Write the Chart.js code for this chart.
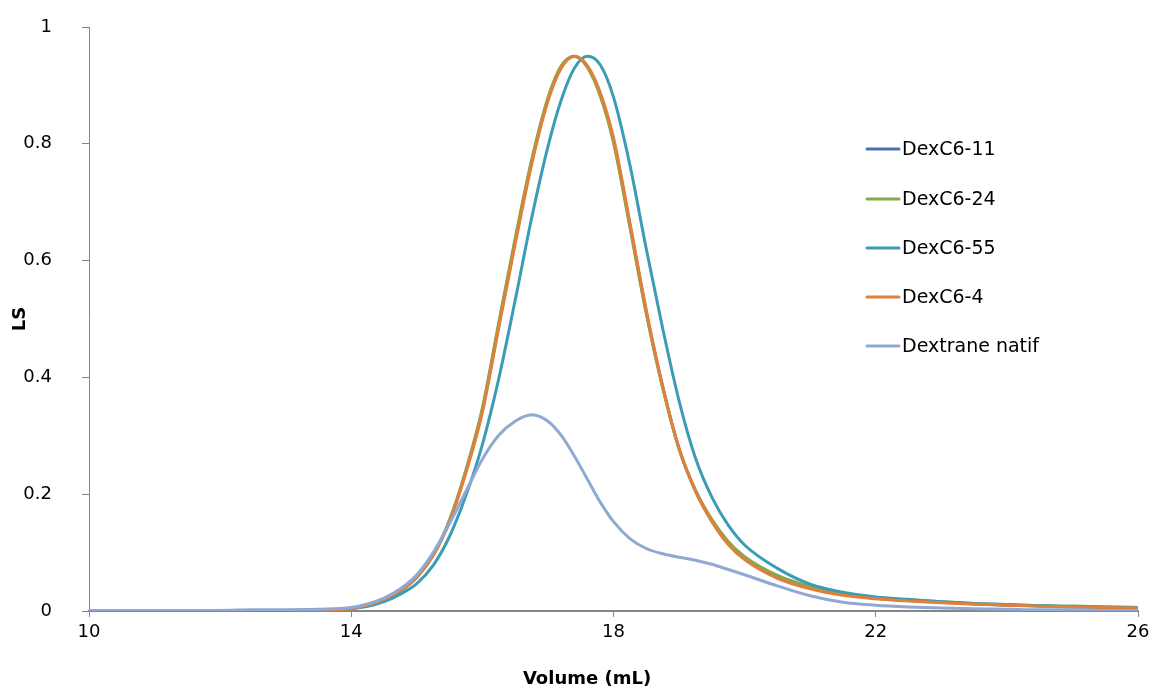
<!DOCTYPE html>
<html lang="fr">
<head>
<meta charset="UTF-8">
<title>LS - Volume</title>
<script src="https://cdn.jsdelivr.net/npm/chart.js"></script>
<style>
  html, body { margin: 0; padding: 0; background: #fff; }
  #wrap { width: 1152px; height: 691px; position: relative; }
</style>
</head>
<body>
<div id="wrap"><canvas id="graphLS"></canvas></div>

<script>
// volumes d'elution (mL)
const volumes = [10, 10.5, 11, 11.5, 12, 12.5, 13, 13.5, 14, 14.25, 14.5, 14.75, 15, 15.25, 15.5, 15.75,
  16, 16.25, 16.5, 16.75, 17, 17.2, 17.4, 17.6, 17.8, 18, 18.25, 18.5, 18.75, 19, 19.25, 19.5, 19.75,
  20, 20.5, 21, 21.5, 22, 22.5, 23, 23.5, 24, 24.5, 25, 25.5, 26];

const nomsSeries = ['DexC6-11', 'DexC6-24', 'DexC6-55', 'DexC6-4', 'Dextrane natif'];
const couleurs = ['#4672AD', '#89A84B', '#3C9CB6', '#E0803A', '#8FA9D3'];

const dexC6_11 = [0.001, 0.001, 0.001, 0.001, 0.001, 0.001, 0.001, 0.002, 0.004, 0.010, 0.020, 0.035, 0.058, 0.096, 0.155, 0.240,
  0.344, 0.490, 0.633, 0.768, 0.876, 0.931, 0.950, 0.933, 0.884, 0.806, 0.661, 0.512, 0.384, 0.278, 0.206, 0.155, 0.117,
  0.091, 0.059, 0.040, 0.029, 0.022, 0.018, 0.015, 0.012, 0.010, 0.009, 0.007, 0.006, 0.005];
const dexC6_24 = [0.001, 0.001, 0.001, 0.001, 0.001, 0.001, 0.001, 0.002, 0.004, 0.010, 0.019, 0.034, 0.058, 0.096, 0.156, 0.242,
  0.348, 0.494, 0.638, 0.772, 0.879, 0.933, 0.950, 0.931, 0.881, 0.802, 0.657, 0.509, 0.382, 0.278, 0.207, 0.157, 0.119,
  0.093, 0.061, 0.042, 0.030, 0.023, 0.019, 0.016, 0.013, 0.011, 0.009, 0.008, 0.007, 0.006];
const dexC6_55 = [0.001, 0.001, 0.001, 0.001, 0.001, 0.001, 0.001, 0.002, 0.004, 0.008, 0.016, 0.029, 0.047, 0.078, 0.128, 0.198,
  0.285, 0.398, 0.532, 0.672, 0.795, 0.874, 0.929, 0.950, 0.935, 0.880, 0.764, 0.620, 0.484, 0.360, 0.262, 0.195, 0.147,
  0.113, 0.073, 0.046, 0.032, 0.024, 0.020, 0.016, 0.013, 0.011, 0.009, 0.008, 0.007, 0.006];
const dexC6_4 = [0.001, 0.001, 0.001, 0.001, 0.001, 0.001, 0.001, 0.002, 0.004, 0.010, 0.020, 0.035, 0.058, 0.095, 0.153, 0.237,
  0.340, 0.485, 0.628, 0.764, 0.873, 0.929, 0.950, 0.934, 0.887, 0.810, 0.665, 0.515, 0.385, 0.278, 0.205, 0.153, 0.114,
  0.088, 0.056, 0.038, 0.027, 0.021, 0.017, 0.014, 0.012, 0.010, 0.008, 0.007, 0.006, 0.005];
const dextraneNatif = [0.001, 0.001, 0.001, 0.001, 0.001, 0.002, 0.002, 0.003, 0.006, 0.012, 0.022, 0.038, 0.062, 0.100, 0.150, 0.205,
  0.260, 0.301, 0.325, 0.336, 0.325, 0.301, 0.266, 0.226, 0.186, 0.153, 0.124, 0.107, 0.098, 0.092, 0.087, 0.080, 0.071,
  0.062, 0.043, 0.026, 0.015, 0.010, 0.007, 0.005, 0.004, 0.003, 0.002, 0.002, 0.001, 0.001];

const valeurs = [dexC6_11, dexC6_24, dexC6_55, dexC6_4, dextraneNatif];

const police = "'DejaVu Sans', sans-serif";

// legende dans la zone du graphe + titres des axes
const legendeEtTitres = {
  id: 'legendeEtTitres',
  afterDraw(chart) {
    const ctx = chart.ctx;
    ctx.save();
    const lignesY = [149, 199, 248, 297, 346];
    chart.data.datasets.forEach(function (ds, i) {
      const y = lignesY[i];
      ctx.strokeStyle = ds.borderColor;
      ctx.lineWidth = 3;
      ctx.lineCap = 'round';
      ctx.beginPath();
      ctx.moveTo(867, y);
      ctx.lineTo(899, y);
      ctx.stroke();
      ctx.fillStyle = '#000';
      ctx.font = '19px ' + police;
      ctx.textAlign = 'left';
      ctx.textBaseline = 'middle';
      ctx.fillText(ds.label, 902, y + 1);
    });

    ctx.font = 'bold 18px ' + police;
    ctx.fillStyle = '#000';
    ctx.textAlign = 'center';
    ctx.textBaseline = 'middle';
    ctx.fillText('Volume (mL)', 587, 679);

    ctx.translate(20, 319);
    ctx.rotate(-Math.PI / 2);
    ctx.fillText('LS', 0, 0);
    ctx.restore();
  }
};

const datasets = nomsSeries.map(function (nom, i) {
  return {
    label: nom,
    data: volumes.map(function (v, j) { return { x: v, y: valeurs[i][j] }; }),
    borderColor: couleurs[i],
    backgroundColor: couleurs[i],
    borderWidth: 3,
    pointRadius: 0,
    fill: false,
    cubicInterpolationMode: 'monotone',
    order: nomsSeries.length - i   // derniere serie dessinee au dessus
  };
});

const config = {
  type: 'line',
  data: { datasets: datasets },
  options: {
    responsive: false,
    animation: false,
    layout: { padding: { left: 0, top: 27, right: 14, bottom: 0 } },
    plugins: {
      legend: { display: false },
      tooltip: { enabled: false }
    },
    scales: {
      x: {
        type: 'linear',
        min: 10,
        max: 26,
        afterFit: function (scale) {
          scale.height = 80;
          scale.paddingLeft = 0;
          scale.paddingRight = 0;
        },
        ticks: {
          stepSize: 4,
          color: '#000',
          padding: 5,
          maxRotation: 0,
          font: { family: police, size: 18 }
        },
        grid: {
          drawOnChartArea: false,
          drawTicks: true,
          tickLength: 6,
          color: '#868686'
        },
        border: { display: true, color: '#868686', width: 2 }
      },
      y: {
        min: 0,
        max: 1,
        afterFit: function (scale) {
          scale.width = 89;
          scale.paddingTop = 0;
          scale.paddingBottom = 0;
        },
        ticks: {
          stepSize: 0.2,
          color: '#000',
          padding: 30,
          font: { family: police, size: 18 },
          callback: function (v) { return String(Math.round(v * 10) / 10); }
        },
        grid: {
          drawOnChartArea: false,
          drawTicks: true,
          tickLength: 7,
          color: '#868686'
        },
        border: { display: true, color: '#868686', width: 1 }
      }
    }
  },
  plugins: [legendeEtTitres]
};

const canvas = document.getElementById('graphLS');
canvas.width = 1152;
canvas.height = 691;
new Chart(canvas.getContext('2d'), config);
</script>
</body>
</html>
